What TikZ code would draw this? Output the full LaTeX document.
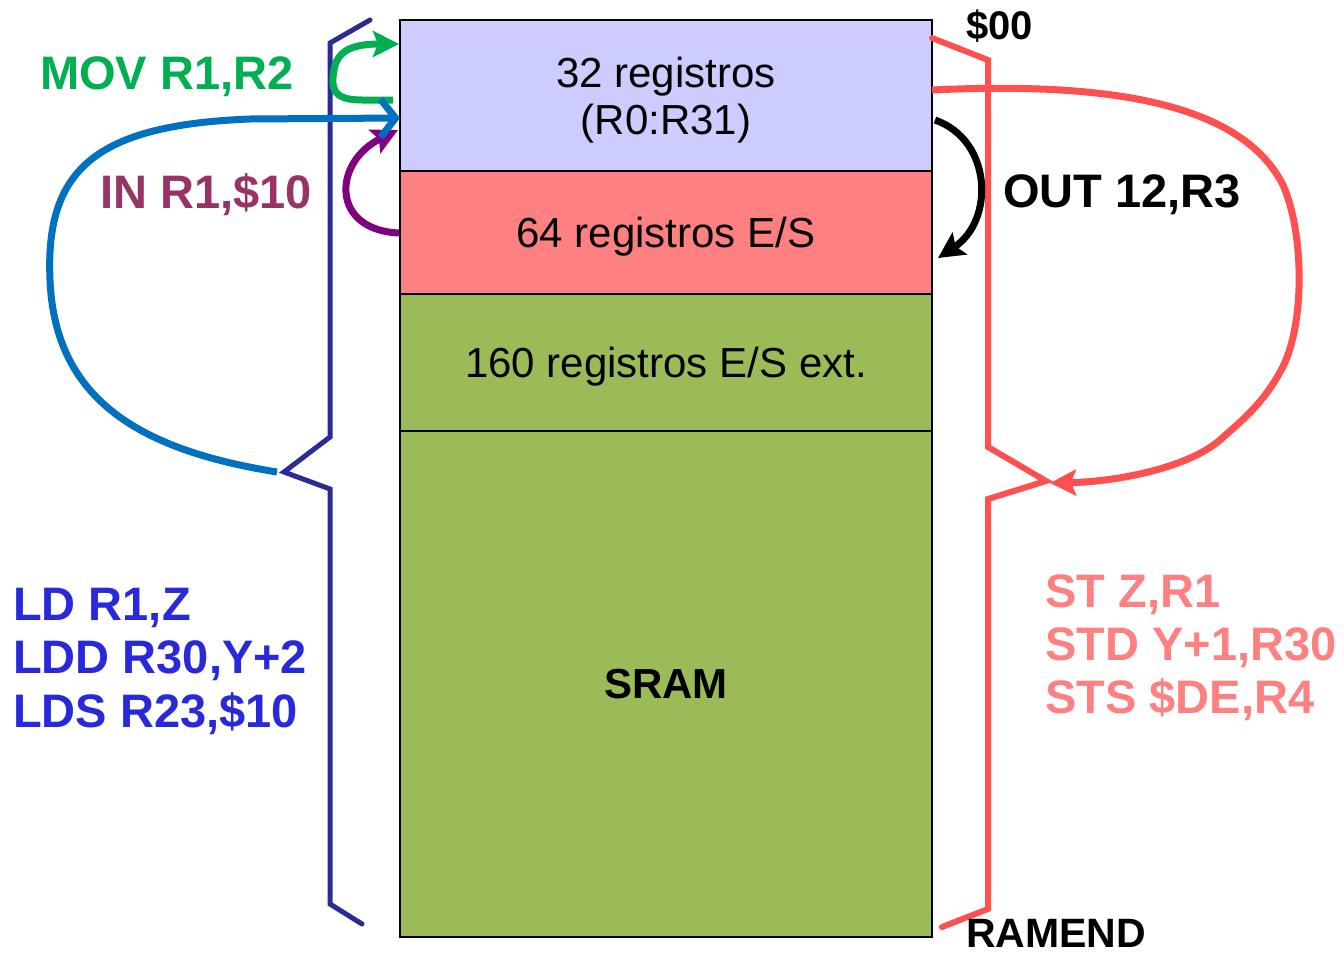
\documentclass[tikz,border=0pt]{standalone}
\usepackage{fontspec}
\setmainfont{Liberation Sans}
\usetikzlibrary{arrows.meta}
\definecolor{regblue}{HTML}{CCCCFF}
\definecolor{regred}{HTML}{FF8080}
\definecolor{reggreen}{HTML}{9BBB59}
\definecolor{movgreen}{HTML}{00B050}
\definecolor{inpurple}{HTML}{993366}
\definecolor{arrpurple}{HTML}{800080}
\definecolor{ldblue}{HTML}{0070C0}
\definecolor{bracenavy}{HTML}{2B2B95}
\definecolor{ldtext}{HTML}{2828DC}
\definecolor{sttext}{HTML}{FF8080}
\definecolor{stred}{HTML}{FF5050}
\begin{document}
\begin{tikzpicture}[x=1pt,y=-1pt,
  memblock/.style={draw=black,line width=1.5pt,inner sep=0pt,minimum width=532pt,align=center,
    text depth=0pt,font=\fontsize{42}{48}\selectfont},
  biglabel/.style={anchor=base west,inner sep=0pt,font=\fontsize{47}{53}\selectfont\bfseries},
  bracestyle/.style={line width=5pt,line cap=round,line join=miter},
  curvestyle/.style={line width=7pt},
  solidhead/.style={-{Stealth[length=26pt,width=26pt,inset=5pt]}},
  barbhead/.style={-{Straight Barb[length=15pt,width=38pt,line width=7pt]}}
]
\useasboundingbox (0,0) rectangle (1344,956);

% memory blocks
\node[memblock,fill=regblue,minimum height=151pt] (regs) at (666,95.5) {32 registros\\[-1pt](R0:R31)};
\node[memblock,fill=regred,minimum height=123pt] (io) at (666,232.5) {64 registros E/S};
\node[memblock,fill=reggreen,minimum height=137pt] (ext) at (666,362.5) {160 registros E/S ext.};
\node[memblock,fill=reggreen,minimum height=506pt,font=\fontsize{42}{48}\selectfont\bfseries] (sram) at (666,684) {SRAM};

% braces
\coordinate (lbtop) at (370,20);
\coordinate (lbtip) at (284,472);
\coordinate (lbbot) at (362,924);
\draw[bracenavy,bracestyle] (lbtop) -- (330,43) -- (330,437) -- (lbtip) -- (330,489) -- (330,904) -- (lbbot);

\coordinate (rbtop) at (932,38);
\coordinate (rbtip) at (1046,481);
\coordinate (rbbot) at (942,927);
\draw[stred,bracestyle,line width=6pt] (rbtop) -- (988,60) -- (988,447) -- (rbtip) -- (988,499) -- (988,909) -- (rbbot);

% endpoints
\coordinate (movs) at (393,100);
\coordinate (move) at (399,44);
\coordinate (ins) at (399,233);
\coordinate (ine) at (398,130);
\coordinate (lds) at (277,472);
\coordinate (lde) at (400,118);
\coordinate (outs) at (935,120);
\coordinate (oute) at (938,258);
\coordinate (sts) at (932,90);
\coordinate (ste) at (1050,483);

% MOV arrow (green)
\draw[movgreen,curvestyle,solidhead] (movs) -- (362,100) .. controls (332,100) and (331,88) .. (334,70)
  .. controls (337,52) and (350,44) .. (move);
% IN arrow (purple)
\draw[arrpurple,curvestyle,solidhead] (ins) .. controls (330,230) and (333,162) .. (ine);
% LD arrow (blue)
\draw[ldblue,curvestyle,barbhead] (lds) .. controls (140,450) and (55,400) .. (50,280)
  .. controls (45,170) and (95,125) .. (250,119) -- (lde);
% OUT arrow (black)
\draw[black,curvestyle,solidhead] (outs) .. controls (992,140) and (995,220) .. (oute);
% ST arrow (red)
\draw[stred,curvestyle,solidhead] (sts) .. controls (1100,82) and (1240,100) .. (1283,185)
  .. controls (1305,235) and (1305,330) .. (1280,372)
  .. controls (1262,405) and (1240,422) .. (1220,440)
  .. controls (1185,470) and (1110,482) .. (ste);

% labels
\node[biglabel,text=movgreen] (mov) at (40,89) {MOV R1,R2};
\node[biglabel,text=inpurple] (in) at (100,208) {IN R1,\$10};
\node[biglabel,text=black] (out) at (1003,207) {OUT 12,R3};
\node[biglabel,text=black,font=\fontsize{40}{48}\selectfont\bfseries] (s00) at (966,39) {\$00};
\node[biglabel,text=black,font=\fontsize{41}{48}\selectfont\bfseries] (ramend) at (966,947) {RAMEND};

\node[biglabel,text=ldtext] (ld1) at (13,620) {LD R1,Z};
\node[biglabel,text=ldtext] (ld2) at (13,673) {LDD R30,Y+2};
\node[biglabel,text=ldtext] (ld3) at (13,727) {LDS R23,\$10};

\node[biglabel,text=sttext] (st1) at (1045,607) {ST Z,R1};
\node[biglabel,text=sttext] (st2) at (1045,660) {STD Y+1,R30};
\node[biglabel,text=sttext] (st3) at (1045,713) {STS \$DE,R4};
\end{tikzpicture}
\end{document}
